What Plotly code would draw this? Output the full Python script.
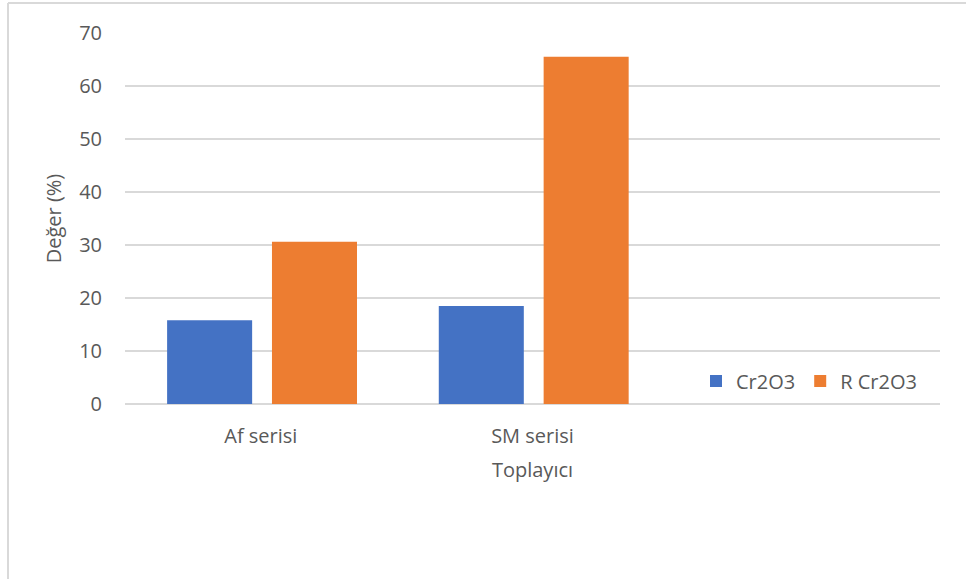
import plotly.graph_objects as go

# Category labels (third slot is left empty, the legend sits there)
categories = ["Af serisi", "SM serisi", " "]
cr2o3 = [15.8, 18.5, None]
r_cr2o3 = [30.6, 65.5, None]
y_ticks = [0, 10, 20, 30, 40, 50, 60, 70]

TEXT = "#595959"
GRID = "#d9d9d9"
FONT = "Open Sans"
FS = 20

fig = go.Figure()
fig.add_trace(go.Bar(
    x=categories, y=cr2o3, name="Cr2O3",
    marker=dict(color="#4472C4", line=dict(width=0)),
    width=0.313, offset=-0.345,
))
fig.add_trace(go.Bar(
    x=categories, y=r_cr2o3, name="R Cr2O3",
    marker=dict(color="#ED7D31", line=dict(width=0)),
    width=0.313, offset=0.041,
))

W, H = 966, 579
L, R, T, B = 125, 26, 33, 175
pw, ph = W - L - R, H - T - B

# light frame around the chart area (left and top edges)
fx0 = (8 - L) / pw
fy1 = (H - B - 3) / ph
fig.add_shape(type="line", xref="paper", yref="paper",
              x0=fx0, x1=fx0, y0=-B / ph, y1=fy1,
              line=dict(color=GRID, width=2))
fig.add_shape(type="line", xref="paper", yref="paper",
              x0=fx0, x1=(W - L) / pw, y0=fy1, y1=fy1,
              line=dict(color=GRID, width=2))

fig.update_layout(
    width=W, height=H,
    margin=dict(l=L, r=R, t=T, b=B),
    paper_bgcolor="white", plot_bgcolor="white",
    font=dict(family=FONT, color=TEXT, size=FS),
    barmode="group",
    showlegend=True,
    legend=dict(
        orientation="h", x=(696 - L) / pw, y=(404 - 381) / ph,
        xanchor="left", yanchor="middle",
        font=dict(size=FS, color=TEXT), bgcolor="rgba(0,0,0,0)",
        itemwidth=30, tracegroupgap=0,
    ),
    xaxis=dict(
        type="category", categoryorder="array", categoryarray=categories,
        range=[-0.5, 2.5], showgrid=False, zeroline=False,
        showline=False, ticks="", ticklabelstandoff=18,
        tickfont=dict(size=FS, color=TEXT),
        title=dict(text="Toplayıcı", font=dict(size=FS, color=TEXT), standoff=14),
    ),
    yaxis=dict(
        range=[0, 70], tickvals=y_ticks, showgrid=True, gridcolor=GRID,
        gridwidth=1.5, zeroline=True, zerolinecolor=GRID, zerolinewidth=1.5,
        showline=False, ticks="", ticklabelstandoff=22,
        tickfont=dict(size=FS, color=TEXT),
        title=dict(text="Değer (%)", font=dict(size=FS, color=TEXT), standoff=12),
    ),
)

fig.write_html("out.html")
